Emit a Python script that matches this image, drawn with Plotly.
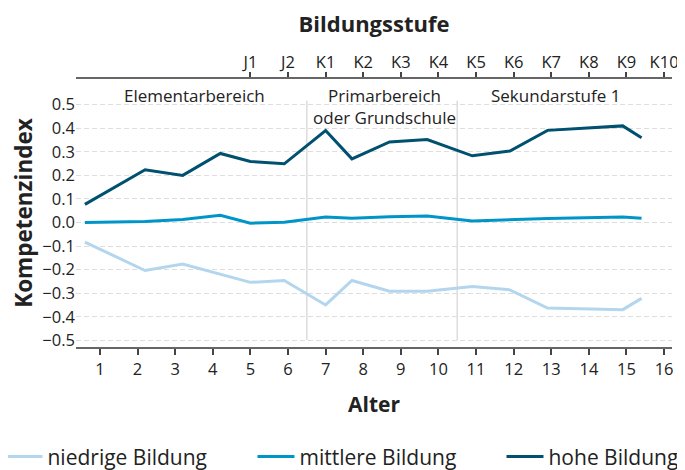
import plotly.graph_objects as go

ages = [0.6, 2.2, 3.2, 4.2, 5.0, 5.9, 7.0, 7.7, 8.7, 9.7, 10.9, 11.9, 12.9, 14.9, 15.4]
niedrige = [-0.083, -0.204, -0.176, -0.218, -0.254, -0.246, -0.350, -0.246, -0.292, -0.292, -0.272, -0.286, -0.363, -0.370, -0.322]
mittlere = [0.000, 0.004, 0.013, 0.031, -0.003, 0.001, 0.023, 0.018, 0.024, 0.028, 0.006, 0.011, 0.017, 0.023, 0.018]
hohe = [0.077, 0.224, 0.200, 0.293, 0.259, 0.249, 0.390, 0.270, 0.342, 0.352, 0.283, 0.303, 0.391, 0.410, 0.360]

series_names = ["niedrige Bildung", "mittlere Bildung", "hohe Bildung"]
series_colors = ["#b3d6ee", "#0095c9", "#00506f"]

age_ticks = list(range(1, 17))
stage_ticks = list(range(5, 17))
stage_labels = ["J1", "J2", "K1", "K2", "K3", "K4", "K5", "K6", "K7", "K8", "K9", "K10"]
y_ticks = [-0.5, -0.4, -0.3, -0.2, -0.1, 0.0, 0.1, 0.2, 0.3, 0.4, 0.5]

sections = ["Elementarbereich", "Primarbereich<br>oder Grundschule", "Sekundarstufe 1"]
section_x = [3.52, 8.56, 13.12]
separators = [6.5, 10.5]

FONT = "Open Sans"
TXT = "#222222"

legend_ids = ["legend", "legend2", "legend3"]
legend_x = [-0.1267, 0.2961, 0.7139]

fig = go.Figure()
for name, col, vals, lid in zip(series_names, series_colors, [niedrige, mittlere, hohe], legend_ids):
    fig.add_trace(go.Scatter(x=ages, y=vals, mode="lines", name=name, legend=lid,
                             line=dict(color=col, width=3)))

# dummy trace for top axis
fig.add_trace(go.Scatter(x=[None], y=[None], xaxis="x2", showlegend=False, hoverinfo="skip"))

X_RANGE = [0.363, 16.21]
Y_RANGE = [-0.5285, 0.609]

for sx in separators:
    fig.add_shape(type="line", x0=sx, x1=sx, y0=-0.5, y1=0.517, xref="x", yref="y",
                  line=dict(color="#dcdcdc", width=1.5), layer="below")

for txt, sx in zip(sections, section_x):
    fig.add_annotation(x=sx, y=0.598, xref="x", yref="y", text=txt, showarrow=False,
                       yanchor="top", font=dict(family=FONT, size=17, color=TXT))

legend_common = dict(orientation="h", xanchor="left", y=-0.41, yanchor="middle",
                     font=dict(family=FONT, size=21, color=TXT), itemwidth=37,
                     bgcolor="rgba(0,0,0,0)")

fig.update_layout(
    width=685, height=470,
    margin=dict(l=68, r=21, t=71, b=131, autoexpand=False),
    paper_bgcolor="white", plot_bgcolor="white",
    font=dict(family=FONT, color=TXT),
    xaxis=dict(range=X_RANGE, tickvals=age_ticks, ticks="outside", ticklen=6,
               tickcolor="#444", tickwidth=1.5, showline=True, linecolor="#666", linewidth=2,
               showgrid=False, zeroline=False, tickfont=dict(size=16.5, color=TXT),
               title=dict(text="<b>Alter</b>", font=dict(size=21, color=TXT), standoff=19)),
    xaxis2=dict(range=X_RANGE, overlaying="x", side="top", anchor="y",
                tickvals=stage_ticks, ticktext=stage_labels, ticks="outside", ticklen=5,
                tickcolor="#444", tickwidth=1.5, showline=True, linecolor="#666", linewidth=2,
                showgrid=False, zeroline=False, tickfont=dict(size=16.5, color=TXT),
                ticklabelstandoff=-3,
                title=dict(text="<b>Bildungsstufe</b>", font=dict(size=22, color=TXT), standoff=14)),
    yaxis=dict(range=Y_RANGE, tickvals=y_ticks, tickformat=".1f", showline=False,
               showgrid=True, gridcolor="#dddddd", griddash="5px,3px", gridwidth=1,
               zeroline=False, ticks="", tickfont=dict(size=16.5, color=TXT),
               title=dict(text="<b>Kompetenzindex</b>", font=dict(size=22.5, color=TXT), standoff=12)),
    legend=dict(x=legend_x[0], **legend_common),
    legend2=dict(x=legend_x[1], **legend_common),
    legend3=dict(x=legend_x[2], **legend_common),
    showlegend=True,
)

fig.write_html("out.html")
